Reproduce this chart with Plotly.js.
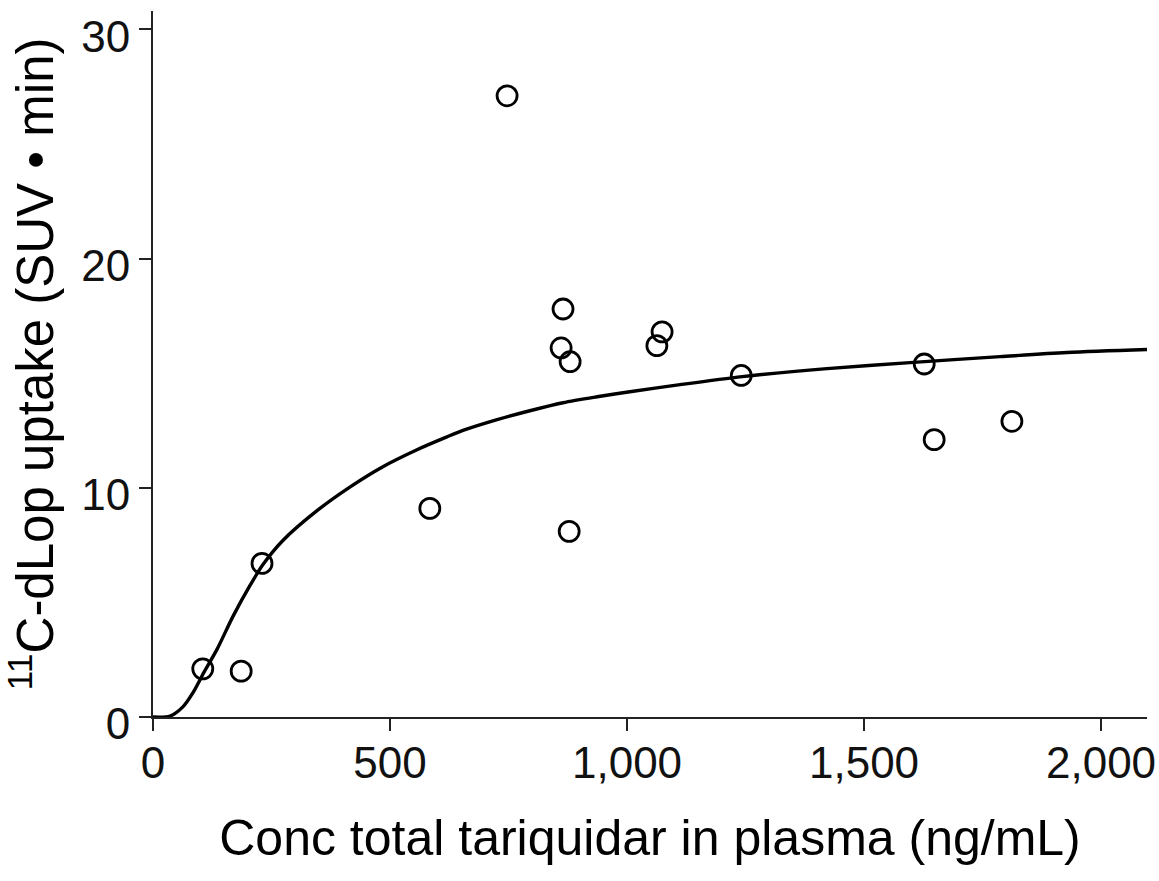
<!DOCTYPE html>
<html>
<head>
<meta charset="utf-8">
<script src="https://cdn.plot.ly/plotly-3.0.1.min.js"></script>
<style>
  html, body { margin: 0; padding: 0; background: #ffffff; }
  #chart { width: 1159px; height: 881px; }
</style>
</head>
<body>
<div id="chart"></div>
<script>
// Observed data points (conc total tariquidar in plasma, 11C-dLop uptake)
const pointConc = [105, 186, 230, 584, 747, 865, 861, 880, 878, 1074, 1063, 1241, 1627, 1648, 1812];
const pointUptake = [2.1, 2.0, 6.7, 9.1, 27.1, 17.8, 16.1, 15.5, 8.1, 16.8, 16.2, 14.9, 15.4, 12.1, 12.9];

// Fitted curve
const curveConc = [0, 36, 63, 84, 108, 135, 169, 205, 232, 274, 346, 416, 485, 557, 620, 654, 726, 795, 865, 937, 1006, 1112, 1243, 1422, 1597, 1787, 1928, 2097];
const curveUptake = [0, 0.04, 0.44, 1.05, 1.97, 2.95, 4.4, 5.75, 6.65, 7.7, 9.0, 10.04, 10.92, 11.66, 12.22, 12.5, 12.97, 13.36, 13.71, 13.97, 14.19, 14.5, 14.85, 15.2, 15.46, 15.72, 15.9, 16.03];

// Tick labels
const xTickVals = [0, 500, 1000, 1500, 2000];
const xTickText = ["0", "500", "1,000", "1,500", "2,000"];
const yTickVals = [0, 10, 20, 30];
const yTickText = ["0", "10", "20", "30"];

const xTitle = "Conc total tariquidar in plasma (ng/mL)";
const yTitle = "<sup>11</sup>C-dLop uptake (SUV \u2022 min)";

const FONT = "Liberation Sans, Arial, Helvetica, sans-serif";

const traces = [
  {
    x: curveConc,
    y: curveUptake,
    type: "scatter",
    mode: "lines",
    line: { color: "#000000", width: 3.4, shape: "spline", smoothing: 0.8 },
    hoverinfo: "skip",
    showlegend: false
  },
  {
    x: pointConc,
    y: pointUptake,
    type: "scatter",
    mode: "markers",
    marker: {
      symbol: "circle-open",
      size: 20,
      color: "#000000",
      line: { color: "#000000", width: 2.8 }
    },
    showlegend: false
  }
];

const layout = {
  width: 1159,
  height: 881,
  margin: { l: 153, r: 12, t: 11, b: 164 },
  paper_bgcolor: "#ffffff",
  plot_bgcolor: "#ffffff",
  font: { family: FONT, color: "#000000" },
  showlegend: false,
  xaxis: {
    range: [0, 2097],
    tickmode: "array",
    tickvals: xTickVals,
    ticktext: xTickText,
    ticks: "outside",
    ticklen: 12,
    tickwidth: 2,
    tickcolor: "#222222",
    showline: true,
    linecolor: "#222222",
    linewidth: 2,
    showgrid: false,
    zeroline: false,
    ticklabeloverflow: "allow",
    ticklabelstandoff: -6,
    tickfont: { family: FONT, size: 44, color: "#111111" },
    title: { text: xTitle, font: { family: FONT, size: 50, color: "#000000" }, standoff: 34 }
  },
  yaxis: {
    range: [0, 30.8],
    tickmode: "array",
    tickvals: yTickVals,
    ticktext: yTickText,
    ticks: "outside",
    ticklen: 12,
    tickwidth: 2,
    tickcolor: "#222222",
    showline: true,
    linecolor: "#222222",
    linewidth: 2,
    showgrid: false,
    zeroline: false,
    ticklabelshift: 7,
    ticklabeloverflow: "allow",
    tickfont: { family: FONT, size: 44, color: "#111111" },
    title: { text: yTitle, font: { family: FONT, size: 51, color: "#000000" }, standoff: 13 }
  }
};

Plotly.newPlot("chart", traces, layout, { displayModeBar: false, staticPlot: true });
</script>
</body>
</html>
